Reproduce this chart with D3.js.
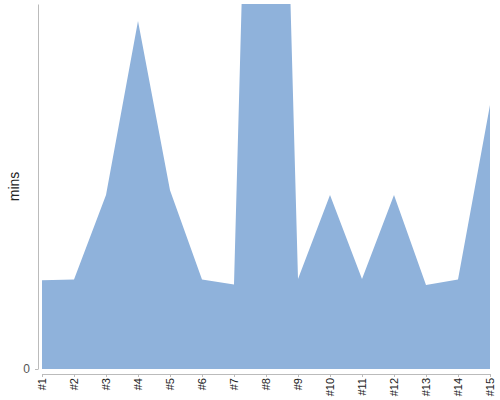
<!DOCTYPE html>
<html>
<head>
<meta charset="utf-8">
<script src="https://cdn.jsdelivr.net/npm/d3@7"></script>
<style>
  body { margin: 0; background: #fff; }
  text { font-family: "Liberation Sans", Arial, sans-serif; }
</style>
</head>
<body>
<svg id="chart" width="500" height="400"></svg>
<script>
// runs, in order
const categories = ['#1', '#2', '#3', '#4', '#5', '#6', '#7', '#8', '#9', '#10', '#11', '#12', '#13', '#14', '#15']
// minutes per run (#8 goes way off the top and gets clipped)
const minutes = [14.6, 14.7, 28.6, 57.2, 29.4, 14.7, 13.9, 208, 14.8, 28.6, 14.8, 28.6, 13.8, 14.7, 43.4]
const yTicks = [0]
const yMax = 60

const margin = { top: 4, right: 10, bottom: 31, left: 42 }
const width = 500 - margin.left - margin.right
const height = 400 - margin.top - margin.bottom

const svg = d3.select('#chart')
const g = svg.append('g')
  .attr('transform', `translate(${margin.left},${margin.top})`)

const x = d3.scalePoint()
  .domain(categories)
  .range([0, width])

const y = d3.scaleLinear()
  .domain([0, yMax])
  .range([height, 0])

g.append('clipPath')
  .attr('id', 'plot-clip')
  .append('rect')
  .attr('width', width)
  .attr('height', height)

const area = d3.area()
  .x((d, i) => x(categories[i]))
  .y0(y(0))
  .y1(d => y(d))

g.append('path')
  .datum(minutes)
  .attr('clip-path', 'url(#plot-clip)')
  .attr('fill', '#8fb2db')
  .attr('d', area)

// y axis, sits a few px left of the plot
const yAxis = g.append('g')
  .attr('transform', 'translate(-4,0)')
  .call(d3.axisLeft(y).tickValues(yTicks).tickSize(3).tickSizeOuter(0).tickPadding(5))
yAxis.select('.domain').attr('stroke', '#bbb')
yAxis.selectAll('.tick line').attr('stroke', '#bbb')
yAxis.selectAll('.tick text')
  .attr('fill', '#555')
  .style('font-size', '12px')

// x axis
const xAxis = g.append('g')
  .attr('transform', `translate(0,${height + 5})`)
  .call(d3.axisBottom(x).tickSize(3).tickSizeOuter(0))
xAxis.select('.domain').attr('stroke', '#bbb')
xAxis.selectAll('.tick line').attr('stroke', '#bbb')
xAxis.selectAll('.tick text')
  .attr('fill', '#222')
  .style('font-size', '11px')
  .attr('transform', 'rotate(-90)')
  .attr('text-anchor', 'end')
  .attr('x', -4)
  .attr('y', 0)
  .attr('dy', '0.35em')

svg.append('text')
  .attr('transform', `translate(19,${margin.top + height / 2}) rotate(-90)`)
  .attr('text-anchor', 'middle')
  .attr('fill', '#222')
  .style('font-size', '14px')
  .text('mins')
</script>
</body>
</html>
